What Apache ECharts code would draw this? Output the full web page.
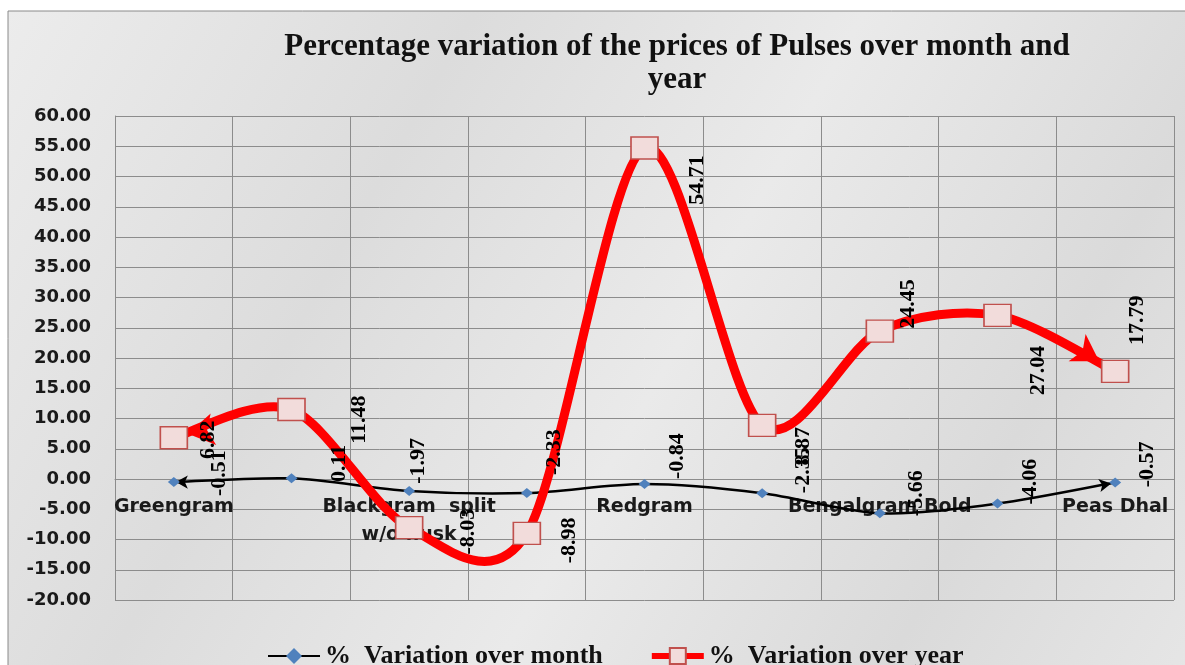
<!DOCTYPE html>
<html>
<head>
<meta charset="utf-8">
<script src="https://cdn.jsdelivr.net/npm/echarts@6/dist/echarts.min.js"></script>
<style>
html,body{margin:0;padding:0;background:#ffffff;}
#chart{width:1185px;height:665px;}
</style>
</head>
<body>
<div id="chart"></div>
<script>
// ---- data ----
const categories = ['Greengram', 'Greengram Dhal', 'Blackgram  split\nw/o husk', 'Blackgram Dhal', 'Redgram', 'Redgram Dhal', 'Bengalgram Bold', 'Bengalgram Dhal', 'Peas Dhal'];
const monthValues = [-0.51, 0.11, -1.97, -2.33, -0.84, -2.35, -5.66, -4.06, -0.57];
const yearValues = [6.82, 11.48, -8.03, -8.98, 54.71, 8.87, 24.45, 27.04, 17.79];
const seriesNames = ['%  Variation over month', '%  Variation over year'];
const titleText = 'Percentage variation of the prices of Pulses over month and\nyear';

// ---- label placement (screen px shift from each point) ----
const monthLabelShift = [[45,-9],[48,-15],[9,-30],[27,-41],[33,-28],[41,-23],[36,-20],[33,-22],[32,-18]];
const yearLabelShift = [[34,2],[68,10],[59,4],[42,7],[53,32],[41,21],[28,-27],[41,55],[22,-51]];

// rotated 90deg label: local offset [ox,oy] -> screen (oy, -ox)
function toOffset(s){ return [-s[1], s[0]]; }

const labelFont = {
  show: true, rotate: 90, position: 'inside', align: 'center', verticalAlign: 'middle',
  fontFamily: 'Liberation Serif', fontWeight: 'bold', fontSize: 22, color: '#000000',
  formatter: p => p.value.toFixed(2)
};

const last = categories.length - 1;

// Excel-like smooth curve segment (Catmull-Rom style), via the axis scale (api.coord)
function curveRenderer(values, color, width) {
  return function (params, api) {
    const i = params.dataIndex;
    if (i >= values.length - 1) return {type: 'group', children: []};
    const clampIdx = k => Math.max(0, Math.min(values.length - 1, k));
    const p = k => api.coord([clampIdx(k), values[clampIdx(k)]]);
    const p0 = p(i - 1), p1 = p(i), p2 = p(i + 1), p3 = p(i + 2);
    const t = 0.15;
    return {
      type: 'bezierCurve',
      shape: {
        x1: p1[0], y1: p1[1], x2: p2[0], y2: p2[1],
        cpx1: p1[0] + (p2[0] - p0[0]) * t, cpy1: p1[1] + (p2[1] - p0[1]) * t,
        cpx2: p2[0] - (p3[0] - p1[0]) * t, cpy2: p2[1] - (p3[1] - p1[1]) * t
      },
      style: {stroke: color, lineWidth: width, fill: null, lineCap: 'round'}
    };
  };
}

const chart = echarts.init(document.getElementById('chart'), null, {renderer: 'canvas'});

const option = {
  backgroundColor: '#ffffff',
  animation: false,
  graphic: [{
    type: 'rect', z: -10, silent: true,
    shape: {x: 8, y: 11, width: 1185, height: 665},
    style: {
      fill: new echarts.graphic.LinearGradient(0, 0, 1, 1, [
        {offset: 0, color: '#ececec'},
        {offset: 0.3, color: '#dcdcdc'},
        {offset: 0.55, color: '#eaeaea'},
        {offset: 0.8, color: '#dadada'},
        {offset: 1, color: '#e6e6e6'}
      ]),
      stroke: '#8a8a8a', lineWidth: 1
    }
  }],
  title: {
    text: titleText,
    left: 672, top: 25, textAlign: 'center',
    textStyle: {fontFamily: 'Liberation Serif', fontWeight: 'bold', fontSize: 31, lineHeight: 33, color: '#111111'}
  },
  legend: {
    left: 262, top: 638,
    itemWidth: 52, itemHeight: 20, itemGap: 46,
    data: [
      {name: seriesNames[0], lineStyle: {color: '#000000', width: 2, opacity: 1}},
      {name: seriesNames[1], lineStyle: {color: '#ff0000', width: 6, opacity: 1}}
    ],
    textStyle: {fontFamily: 'Liberation Serif', fontWeight: 'bold', fontSize: 26, color: '#111111'}
  },
  grid: {left: 115, top: 116, right: 11, bottom: 65, containLabel: false},
  xAxis: {
    type: 'category', data: categories, boundaryGap: true,
    offset: -121,
    axisLine: {show: true, onZero: false, lineStyle: {color: '#8c8c8c', width: 1}},
    axisTick: {show: false},
    splitLine: {show: true, interval: 0, lineStyle: {color: '#8c8c8c', width: 1}},
    axisLabel: {interval: 1, margin: 14, fontFamily: 'DejaVu Sans', fontWeight: 'bold', fontSize: 19, lineHeight: 28, color: '#1a1a1a'}
  },
  yAxis: {
    type: 'value', min: -20, max: 60, interval: 5,
    axisLine: {show: true, lineStyle: {color: '#8c8c8c', width: 1}},
    axisTick: {show: false},
    splitLine: {show: true, lineStyle: {color: '#8c8c8c', width: 1}},
    axisLabel: {margin: 24, fontFamily: 'DejaVu Sans', fontWeight: 'bold', fontSize: 18, color: '#1a1a1a',
      formatter: v => v.toFixed(2)}
  },
  series: [
    {
      name: 'monthCurve', type: 'custom', z: 2, silent: true,
      renderItem: curveRenderer(monthValues, '#000000', 2.5),
      encode: {x: 0, y: 1},
      data: monthValues.map((v, i) => [i, v])
    },
    {
      name: 'yearCurve', type: 'custom', z: 3, silent: true,
      renderItem: curveRenderer(yearValues, '#ff0000', 9),
      encode: {x: 0, y: 1},
      data: yearValues.map((v, i) => [i, v])
    },
    {
      name: 'monthArrows', type: 'line', z: 2, silent: true, lineStyle: {width: 0, opacity: 0},
      showSymbol: true, symbol: 'arrow', symbolSize: [10, 12], itemStyle: {color: '#000000'},
      data: categories.map((c, i) => {
        if (i === 0) return {value: monthValues[0], symbolRotate: 90, symbolOffset: [2, 0]};
        if (i === last) return {value: monthValues[last], symbolRotate: -80, symbolOffset: [-4, 1]};
        return {value: monthValues[i], symbol: 'none'};
      })
    },
    {
      name: 'yearArrows', type: 'line', z: 4, silent: true, lineStyle: {width: 0, opacity: 0},
      showSymbol: true, symbol: 'arrow', symbolSize: [24, 26], itemStyle: {color: '#ff0000'},
      data: categories.map((c, i) => {
        if (i === 0) return {value: yearValues[0], symbolRotate: 100, symbolOffset: [14, -4]};
        if (i === last) return {value: yearValues[last], symbolRotate: -122, symbolOffset: [-16, -10]};
        return {value: yearValues[i], symbol: 'none'};
      })
    },
    {
      name: seriesNames[0], type: 'line', z: 5,
      symbol: 'diamond', symbolSize: [12, 10],
      itemStyle: {color: '#4f81bd'},
      lineStyle: {color: '#000000', width: 2.5, opacity: 0},
      label: labelFont,
      data: monthValues.map((v, i) => ({value: v, label: {offset: toOffset(monthLabelShift[i])}}))
    },
    {
      name: seriesNames[1], type: 'line', z: 6,
      symbol: 'rect', symbolSize: [27, 22],
      itemStyle: {color: '#f2dcdb', borderColor: '#c0504d', borderWidth: 1.5},
      lineStyle: {color: '#ff0000', width: 8, opacity: 0},
      label: labelFont,
      data: yearValues.map((v, i) => ({value: v, label: {offset: toOffset(yearLabelShift[i])}}))
    }
  ]
};
chart.setOption(option);
</script>
</body>
</html>
